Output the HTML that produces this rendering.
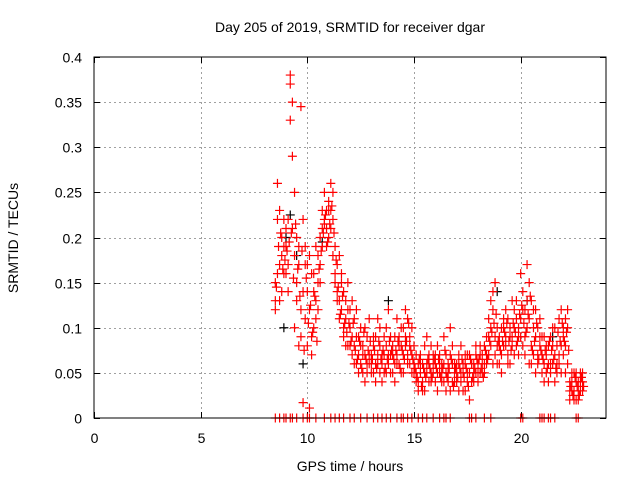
<!DOCTYPE html>
<html><head><meta charset="utf-8"><style>
html,body{margin:0;padding:0;background:#fff}
svg{display:block;font-family:"Liberation Sans",sans-serif}
</style></head><body>
<svg id="chart" width="640" height="480" viewBox="0 0 640 480">
<rect x="0" y="0" width="640" height="480" fill="#fff"/>
<text x="350" y="32" text-anchor="middle" font-size="14">Day 205 of 2019, SRMTID for receiver dgar</text>
<text x="350" y="471" text-anchor="middle" font-size="14">GPS time / hours</text>
<text transform="translate(18,238) rotate(-90)" text-anchor="middle" font-size="14">SRMTID / TECUs</text>
<g id="grid"></g>
<g id="ticks"></g>
<g id="marks"></g>
<rect x="94" y="57" width="512" height="361" fill="none" stroke="#000" stroke-width="1"/>
</svg>
<script>
const xTicks=[0,5,10,15,20];
const yTicks=[0,0.05,0.1,0.15,0.2,0.25,0.3,0.35,0.4];
const yTickLabels=["0","0.05","0.1","0.15","0.2","0.25","0.3","0.35","0.4"];
const hours=[8.5,8.6,8.7,8.8,8.9,
9.0,9.1,9.2,9.3,9.4,9.5,9.6,9.7,9.8,9.9,
10.0,10.1,10.2,10.3,10.4,10.5,10.6,10.7,10.8,10.9,
11.0,11.1,11.2,11.3,11.4,11.5,11.6,11.7,11.8,11.9,
12.0,12.1,12.2,12.3,12.4,12.5,12.6,12.7,12.8,12.9,
13.0,13.1,13.2,13.3,13.4,13.5,13.6,13.7,13.8,13.9,
14.0,14.1,14.2,14.3,14.4,14.5,14.6,14.7,14.8,14.9,
15.0,15.1,15.2,15.3,15.4,15.5,15.6,15.7,15.8,15.9,
16.0,16.1,16.2,16.3,16.4,16.5,16.6,16.7,16.8,16.9,
17.0,17.1,17.2,17.3,17.4,17.5,17.6,17.7,17.8,17.9,
18.0,18.1,18.2,18.3,18.4,18.5,18.6,18.7,18.8,18.9,
19.0,19.1,19.2,19.3,19.4,19.5,19.6,19.7,19.8,19.9,
20.0,20.1,20.2,20.3,20.4,20.5,20.6,20.7,20.8,20.9,
21.0,21.1,21.2,21.3,21.4,21.5,21.6,21.7,21.8,21.9,
22.0,22.1,22.2,22.3,22.4,22.5,22.6,22.7,22.8,22.9];
const srmtidA=[.15,.22,.13,.20,.19,
.21,.17,.38,.29,.18,.15,.19,.12,.14,.17,
.17,.12,.09,.14,.19,.18,.15,.21,.22,.21,
.24,.26,.22,.16,.14,.18,.12,.10,.13,.15,
.10,.09,.08,.12,.07,.06,.08,.10,.05,.07,
.07,.05,.09,.06,.08,.04,.07,.10,.06,.09,
.08,.06,.07,.09,.05,.10,.08,.11,.06,.07,
.06,.05,.04,.07,.03,.05,.06,.04,.08,.05,
.06,.05,.07,.04,.06,.03,.05,.07,.04,.06,
.05,.07,.04,.06,.03,.05,.07,.04,.06,.05,
.06,.05,.07,.08,.06,.09,.10,.12,.07,.08,
.09,.07,.10,.08,.11,.06,.09,.12,.08,.10,
.16,.12,.09,.17,.11,.08,.10,.12,.07,.09,
.07,.09,.05,.08,.06,.10,.07,.05,.11,.08,
.10,.08,.12,.04,.03,.05,.02,.04,.03,.04];
const srmtidB=[.13,.26,.17,.14,.22,
.16,.22,.37,.35,.25,.20,.08,.345,.017,.19,
.08,.011,.16,.10,.13,.15,.20,.23,.25,.19,
.20,.23,.25,.19,.17,.13,.16,.09,.11,.08,
.12,.07,.11,.06,.09,.08,.05,.07,.09,.06,
.05,.08,.06,.11,.05,.07,.09,.05,.12,.07,
.05,.09,.11,.06,.08,.07,.12,.06,.09,.05,
.08,.04,.06,.05,.06,.03,.09,.07,.05,.06,
.04,.08,.05,.06,.09,.05,.04,.10,.06,.05,
.06,.03,.08,.05,.07,.04,.02,.06,.05,.08,
.04,.07,.05,.06,.09,.07,.13,.06,.15,.10,
.06,.10,.08,.12,.07,.09,.13,.07,.11,.09,
.09,.14,.07,.13,.15,.06,.12,.05,.10,.08,
.05,.06,.08,.04,.09,.06,.04,.08,.06,.12,
.07,.11,.06,.03,.05,.02,.04,.03,.05,.03];
const srmtidC=[.12,.16,.23,.18,.16,
.19,.14,.33,.21,.10,.13,.17,.09,.22,.11,
.14,.18,.07,.16,.11,.12,.17,.19,.215,.23,
.23,.21,.18,.15,.13,.11,.15,.14,.08,.12,
.08,.13,.06,.09,.05,.10,.07,.04,.06,.11,
.06,.09,.04,.07,.10,.06,.05,.08,.07,.05,
.07,.04,.06,.08,.10,.05,.09,.07,.08,.10,
.05,.07,.03,.06,.04,.08,.05,.06,.04,.07,
.07,.03,.06,.05,.04,.07,.06,.03,.08,.04,
.04,.06,.05,.03,.06,.07,.05,.06,.04,.07,
.05,.08,.06,.05,.07,.11,.08,.14,.09,.06,
.08,.05,.11,.09,.06,.10,.08,.10,.13,.07,
.11,.08,.12,.10,.06,.13,.07,.09,.06,.11,
.09,.04,.07,.06,.05,.08,.10,.06,.07,.05,
.09,.05,.10,.02,.04,.03,.05,.02,.04,.05];
const srmtidD=[.145,.19,.205,.165,.175,
.185,.195,.205,.155,.215,.165,.135,.185,.075,.155,
.105,.125,.095,.135,.085,.165,.185,.205,.225,.195,
.215,.235,.205,.175,.145,.115,.135,.105,.095,.105,
.085,.105,.075,.065,.085,.055,.095,.065,.075,.085,
.065,.075,.055,.085,.065,.075,.055,.065,.085,.075,
.065,.075,.085,.055,.075,.065,.085,.105,.075,.065,
.055,.045,.065,.035,.055,.045,.065,.055,.045,.065,
.055,.065,.045,.055,.075,.045,.055,.065,.035,.055,
.045,.055,.065,.045,.055,.035,.065,.045,.055,.065,
.065,.055,.045,.075,.065,.085,.095,.105,.115,.085,
.075,.085,.095,.105,.085,.075,.105,.095,.085,.115,
.125,.105,.095,.115,.135,.075,.085,.105,.065,.075,
.065,.075,.055,.085,.075,.065,.055,.095,.085,.105,
.085,.095,.075,.035,.025,.045,.035,.025,.045,.035];
const zeroHours=[8.5,8.7,8.9,9.0,9.2,9.3,9.5,9.8,10.0,10.1,10.4,10.8,11.1,11.3,11.5,11.7,12.0,12.2,12.5,12.8,13.1,13.3,13.5,13.7,13.9,14.2,14.4,14.5,14.7,14.9,15.2,15.4,15.6,15.9,16.2,16.4,16.5,16.7,17.6,17.7,17.9,18.3,18.6,20.0,20.1,20.9,21.0,21.1,21.3,21.4,21.6,22.6,22.7];
const blackHours=[8.9,9.0,9.2,9.5,9.8,10.7,13.8,18.9,20.3,21.5];
const blackValues=[.10,.20,.225,.18,.06,.195,.13,.14,.13,.09];

const X0=94,X1=606,Y0=418,Y1=57;
function xs(h){return X0+(h/24)*(X1-X0);}
function ys(v){return Y0-(v/0.4)*(Y0-Y1);}
const NS="http://www.w3.org/2000/svg";
const grid=document.getElementById('grid'),ticks=document.getElementById('ticks'),marks=document.getElementById('marks');
function ln(p,x1,y1,x2,y2,st,dash){const l=document.createElementNS(NS,'line');l.setAttribute('x1',x1);l.setAttribute('y1',y1);l.setAttribute('x2',x2);l.setAttribute('y2',y2);l.setAttribute('stroke',st);if(dash)l.setAttribute('stroke-dasharray',dash);p.appendChild(l);return l;}
function tx(x,y,s,anchor,name){const t=document.createElementNS(NS,'text');t.setAttribute('x',x);t.setAttribute('y',y);t.setAttribute('text-anchor',anchor);t.setAttribute('font-size','14');t.textContent=s;


ticks.appendChild(t);}
xTicks.forEach(h=>{const x=Math.round(xs(h))+0.5;
if(h>0){const g=ln(grid,x,Y1,x,Y0,'#a0a0a0','2,3');

}
ln(ticks,x,Y0,x,Y0-6,'#000');ln(ticks,x,Y1,x,Y1+6,'#000');
tx(x,443,String(h),'middle','x-tick-label');});
yTicks.forEach((v,i)=>{const y=Math.round(ys(v))+0.5;
if(v>0&&v<0.4){const g=ln(grid,X0,y,X1,y,'#a0a0a0','2,3');

}
ln(ticks,X0,y,X0+6,y,'#000');ln(ticks,X1,y,X1-6,y,'#000');
tx(82,y+5,yTickLabels[i],'end','y-tick-label');});
function plus(h,v,col){const x=xs(h),y=ys(v);const p=document.createElementNS(NS,'path');
p.setAttribute('d',`M${x-4.5},${y}H${x+4.5}M${x},${y-4.5}V${y+4.5}`);p.setAttribute('stroke',col);p.setAttribute('stroke-width','1.2');p.setAttribute('fill','none');


marks.appendChild(p);}
blackHours.forEach((h,i)=>plus(h,blackValues[i],'#000'));
[srmtidA,srmtidB,srmtidC].forEach(arr=>hours.forEach((h,i)=>plus(h,arr[i],'#ff0000')));
hours.forEach((h,i)=>plus(h+0.05,srmtidD[i],'#ff0000'));
zeroHours.forEach(h=>plus(h,0,'#ff0000'));
</script>
</body></html>
